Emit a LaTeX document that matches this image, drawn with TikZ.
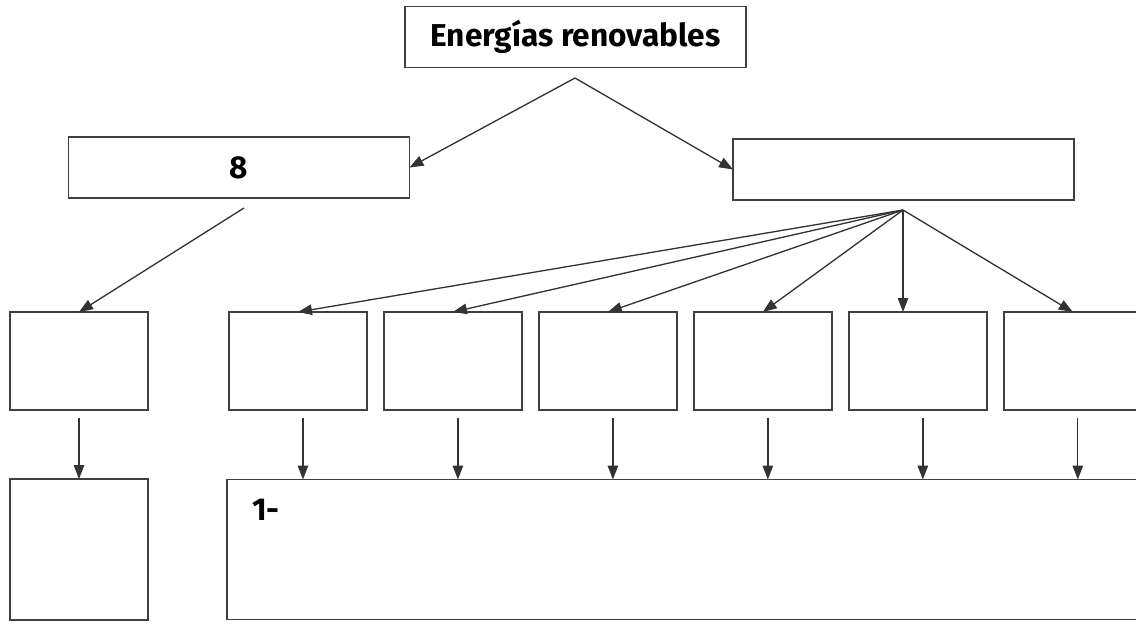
\documentclass[tikz,border=0pt]{standalone}
\usepackage{fontspec}
\setmainfont{Fira Sans}
\usetikzlibrary{arrows.meta,positioning}

\begin{document}
\begin{tikzpicture}[x=0.02cm,y=-0.02cm,node distance=0.34cm,>={Triangle[length=0.28cm,width=0.21cm]}]
	\tikzstyle{rect}=[draw=black!75, rectangle, outer sep=0pt, line width=0.9pt, font=\bfseries\fontsize{18}{21}\selectfont]
	\tikzstyle{rect_w}=[rect, minimum width=6.82cm, minimum height=1.22cm]
	\tikzstyle{rect_s}=[rect, minimum width=2.76cm, minimum height=1.96cm]
	\tikzstyle{arr}=[->, draw=black!80, line width=0.75pt]

	\clip (0,0) rectangle (1136,623);

	\node[rect_w] (top) at (575.5,37) {Energías renovables};
	\node[rect_w] (ocho) at (239,167.5) {8};
	\node[rect_w] (tipos) at (903.5,169.5) {};

	\node[rect_s] (b0) at (79,361) {};
	\node[rect_s] (b1) [right=1.62cm of b0] {};
	\node[rect_s] (b2) [right=of b1] {};
	\node[rect_s] (b3) [right=of b2] {};
	\node[rect_s] (b4) [right=of b3] {};
	\node[rect_s] (b5) [right=of b4] {};
	\node[rect_s] (b6) [right=of b5] {};

	\node[rect, minimum width=2.76cm, minimum height=2.82cm] (c0) at (79,549.5) {};
	\node[rect, minimum width=18.6cm, minimum height=2.8cm] (big) [right=1.58cm of c0] {};
	\node[font=\bfseries\fontsize{18}{21}\selectfont, inner sep=0pt] (uno) [below right=0.38cm and 0.5cm of big.north west] {1-};

	\coordinate (apex) at (575,78);
	\coordinate (foot) at (244,208);
	\coordinate (fan) at (903,210);

	\draw[arr] (apex) -- (ocho.east);
	\draw[arr] (apex) -- (tipos.west);
	\draw[arr] (foot) -- (b0.north);
	\foreach \b in {b1,b2,b3,b4,b6}
		\draw[arr] (fan) -- (\b.north);
	\draw[arr] (fan) -- (fan |- b5.north);
	\draw[arr] ([yshift=-0.16cm]b0.south) -- (c0.north);
	\foreach \i in {1,...,6}
		\draw[arr] ([xshift=0.1cm,yshift=-0.16cm]b\i.south) -- ([xshift=0.1cm]b\i.south |- big.north);
\end{tikzpicture}
\end{document}
